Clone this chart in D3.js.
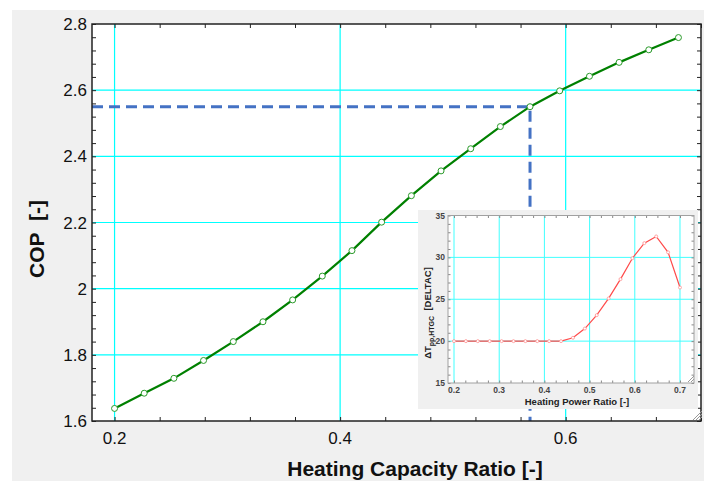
<!DOCTYPE html>
<html>
<head>
<meta charset="utf-8">
<script src="https://cdn.jsdelivr.net/npm/d3@7"></script>
<style>
  html, body { margin: 0; padding: 0; background: #fff; }
  svg { display: block; font-family: "Liberation Sans", Arial, sans-serif; }
</style>
</head>
<body>
<svg id="chart" width="705" height="481"></svg>
<script>
// Heating capacity ratio (shared x for both plots)
const capRatio = [0.2, 0.2263, 0.2526, 0.2789, 0.3053, 0.3316, 0.3579, 0.3842, 0.4105, 0.4368,
                  0.4632, 0.4895, 0.5158, 0.5421, 0.5684, 0.5947, 0.6211, 0.6474, 0.6737, 0.7];
// COP [-]
const cop = [1.638, 1.684, 1.729, 1.783, 1.840, 1.900, 1.966, 2.038, 2.115, 2.201,
             2.281, 2.356, 2.423, 2.490, 2.550, 2.598, 2.642, 2.684, 2.722, 2.759];
// pinch temperature difference of the HTGC [DELTAC]
const dtPinch = [20, 20, 20, 20, 20, 20, 20, 20, 20, 20,
                 20.4, 21.5, 23.1, 25.1, 27.4, 29.9, 31.7, 32.5, 30.6, 26.4];

const xTicks = [0.2, 0.4, 0.6];
const yTicks = [1.6, 1.8, 2, 2.2, 2.4, 2.6, 2.8];
const insetXTicks = [0.2, 0.3, 0.4, 0.5, 0.6, 0.7];
const insetYTicks = [15, 20, 25, 30, 35];
const marked = { x: 0.5684, y: 2.55 };

const svg = d3.select('#chart');

// grey window panel
svg.append('rect').attr('x', 12).attr('y', 10).attr('width', 692).attr('height', 471).attr('fill', '#f0f0f0');

// main plot area
const m = { left: 92, right: 701, top: 24, bottom: 421 };
const x = d3.scaleLinear().domain([0.18, 0.72]).range([m.left, m.right]);
const y = d3.scaleLinear().domain([1.6, 2.8]).range([m.bottom, m.top]);

svg.append('rect').attr('x', m.left).attr('y', m.top)
  .attr('width', m.right - m.left).attr('height', m.bottom - m.top).attr('fill', '#fff');

const grid = svg.append('g').attr('stroke', '#00ffff').attr('stroke-width', 1.2);
grid.selectAll('.gx').data(xTicks).enter().append('line')
  .attr('x1', d => x(d)).attr('x2', d => x(d)).attr('y1', m.top).attr('y2', m.bottom);
grid.selectAll('.gy').data(yTicks.slice(1, -1)).enter().append('line')
  .attr('y1', d => y(d)).attr('y2', d => y(d)).attr('x1', m.left).attr('x2', m.right);

// dashed guide to the marked point
svg.append('path')
  .attr('d', `M${m.left},${y(marked.y)} H${x(marked.x)} V${m.bottom}`)
  .attr('fill', 'none').attr('stroke', '#4472c4').attr('stroke-width', 3)
  .attr('stroke-dasharray', '11,6');

// COP curve
const line = d3.line().x((d, i) => x(capRatio[i])).y(d => y(d));
svg.append('path').datum(cop).attr('d', line)
  .attr('fill', 'none').attr('stroke', '#008000').attr('stroke-width', 2.2);
svg.selectAll('.pt').data(cop).enter().append('circle')
  .attr('cx', (d, i) => x(capRatio[i])).attr('cy', d => y(d)).attr('r', 3)
  .attr('fill', '#fff').attr('stroke', '#2a9a2a').attr('stroke-width', 1);

// tick marks (inward, all four sides)
function inwardTicks(g, axis) {
  g.call(axis);
  g.select('.domain').remove();
  g.selectAll('.tick line').attr('stroke', '#222');
}
const xMinor = d3.range(0.2, 0.7201, 0.04);
const yMinor = d3.range(1.6, 2.8001, 0.04);
svg.append('g').attr('transform', `translate(0,${m.bottom})`)
  .call(g => inwardTicks(g, d3.axisBottom(x).tickValues(xMinor).tickSize(-4).tickFormat('')));
svg.append('g').attr('transform', `translate(0,${m.top})`)
  .call(g => inwardTicks(g, d3.axisTop(x).tickValues(xMinor).tickSize(-4).tickFormat('')));
svg.append('g').attr('transform', `translate(${m.left},0)`)
  .call(g => inwardTicks(g, d3.axisLeft(y).tickValues(yMinor).tickSize(-4).tickFormat('')));
svg.append('g').attr('transform', `translate(${m.right},0)`)
  .call(g => inwardTicks(g, d3.axisRight(y).tickValues(yMinor).tickSize(-4).tickFormat('')));

svg.append('rect').attr('x', m.left).attr('y', m.top)
  .attr('width', m.right - m.left).attr('height', m.bottom - m.top)
  .attr('fill', 'none').attr('stroke', '#222').attr('stroke-width', 1.5);

// tick labels
svg.append('g').selectAll('text').data(xTicks).enter().append('text')
  .attr('x', d => x(d)).attr('y', 444).attr('text-anchor', 'middle')
  .attr('font-size', 17).attr('fill', '#111').text(d => d3.format('.1f')(d));
svg.append('g').selectAll('text').data(yTicks).enter().append('text')
  .attr('x', 87).attr('y', d => y(d) + 6).attr('text-anchor', 'end')
  .attr('font-size', 17).attr('fill', '#111').text(d => d3.format('~g')(d));

// axis titles
svg.append('text').attr('x', 415).attr('y', 476).attr('text-anchor', 'middle')
  .attr('font-size', 21).attr('font-weight', 'bold').attr('fill', '#111')
  .text('Heating Capacity Ratio [-]');
svg.append('text').attr('transform', 'translate(44,239) rotate(-90)').attr('text-anchor', 'middle')
  .attr('font-size', 21).attr('font-weight', 'bold').attr('fill', '#111')
  .style('white-space', 'pre').text('COP  [-]');

// resize grip
function grip(gx, gy, n) {
  const g = svg.append('g').attr('stroke', '#999').attr('stroke-width', 1);
  for (let k = 1; k <= n; k++) {
    g.append('line').attr('x1', gx - k * 3).attr('y1', gy).attr('x2', gx).attr('y2', gy - k * 3);
  }
}
grip(702, 420, 3);

// ---------- inset ----------
svg.append('rect').attr('x', 418).attr('y', 210).attr('width', 280).attr('height', 199).attr('fill', '#f0f0f0');
const im = { left: 448, right: 694, top: 215.5, bottom: 383 };
const ix = d3.scaleLinear().domain([0.1867, 0.731]).range([im.left, im.right]);
const iy = d3.scaleLinear().domain([15, 35]).range([im.bottom, im.top]);

svg.append('rect').attr('x', im.left).attr('y', im.top)
  .attr('width', im.right - im.left).attr('height', im.bottom - im.top).attr('fill', '#fff');
const igrid = svg.append('g').attr('stroke', '#40ffff').attr('stroke-width', 1);
igrid.selectAll('.gx').data(insetXTicks).enter().append('line')
  .attr('x1', d => ix(d)).attr('x2', d => ix(d)).attr('y1', im.top).attr('y2', im.bottom);
igrid.selectAll('.gy').data(insetYTicks.slice(1, -1)).enter().append('line')
  .attr('y1', d => iy(d)).attr('y2', d => iy(d)).attr('x1', im.left).attr('x2', im.right);

const ixMinor = d3.range(0.2, 0.7201, 0.025);
const iyMinor = d3.range(15, 35.01, 1);
function insetTicks(g, axis) {
  g.call(axis);
  g.select('.domain').remove();
  g.selectAll('.tick line').attr('stroke', '#888');
}
svg.append('g').attr('transform', `translate(0,${im.bottom})`)
  .call(g => insetTicks(g, d3.axisBottom(ix).tickValues(ixMinor).tickSize(-2.5).tickFormat('')));
svg.append('g').attr('transform', `translate(0,${im.top})`)
  .call(g => insetTicks(g, d3.axisTop(ix).tickValues(ixMinor).tickSize(-2.5).tickFormat('')));
svg.append('g').attr('transform', `translate(${im.left},0)`)
  .call(g => insetTicks(g, d3.axisLeft(iy).tickValues(iyMinor).tickSize(-2.5).tickFormat('')));
svg.append('g').attr('transform', `translate(${im.right},0)`)
  .call(g => insetTicks(g, d3.axisRight(iy).tickValues(iyMinor).tickSize(-2.5).tickFormat('')));

const iline = d3.line().x((d, i) => ix(capRatio[i])).y(d => iy(d));
svg.append('path').datum(dtPinch).attr('d', iline)
  .attr('fill', 'none').attr('stroke', '#ff4a4a').attr('stroke-width', 1.2);
svg.selectAll('.ipt').data(dtPinch).enter().append('circle')
  .attr('cx', (d, i) => ix(capRatio[i])).attr('cy', d => iy(d)).attr('r', 1.5)
  .attr('fill', '#fff').attr('stroke', '#ff9090').attr('stroke-width', 0.8);

svg.append('rect').attr('x', im.left).attr('y', im.top)
  .attr('width', im.right - im.left).attr('height', im.bottom - im.top)
  .attr('fill', 'none').attr('stroke', '#a0a0a0').attr('stroke-width', 1);

svg.append('g').selectAll('text').data(insetXTicks).enter().append('text')
  .attr('x', d => ix(d)).attr('y', 393).attr('text-anchor', 'middle')
  .attr('font-size', 8.5).attr('font-weight', 'bold').attr('fill', '#444').text(d => d3.format('.1f')(d));
svg.append('g').selectAll('text').data(insetYTicks).enter().append('text')
  .attr('x', 445).attr('y', d => iy(d) + 3).attr('text-anchor', 'end')
  .attr('font-size', 8.5).attr('font-weight', 'bold').attr('fill', '#444').text(d => d);

svg.append('text').attr('x', 577).attr('y', 405).attr('text-anchor', 'middle')
  .attr('font-size', 9.5).attr('font-weight', 'bold').attr('fill', '#222')
  .text('Heating Power Ratio [-]');
const ytitle = svg.append('text').attr('transform', 'translate(431,313) rotate(-90)')
  .attr('text-anchor', 'middle').attr('font-size', 9.5).attr('font-weight', 'bold').attr('fill', '#222')
  .style('white-space', 'pre');
ytitle.append('tspan').text('\u0394T');
ytitle.append('tspan').attr('font-size', 7).attr('dy', 2.5).text('pp,HTGC');
ytitle.append('tspan').attr('dy', -2.5).text('  [DELTAC]');

grip(694, 382, 2);
</script>
</body>
</html>
